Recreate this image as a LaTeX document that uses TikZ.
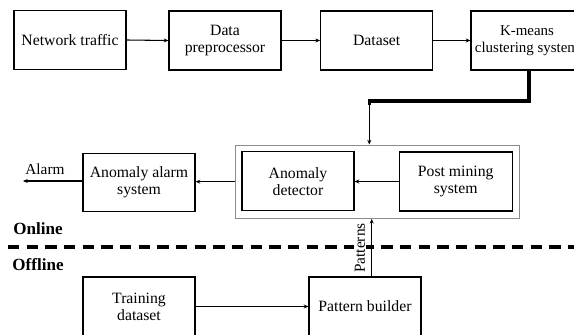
\documentclass[tikz,border=0pt]{standalone}
\usepackage{fontspec}
\setmainfont{Liberation Serif}
\usetikzlibrary{arrows.meta}

\tikzset{
    blk/.style={draw, line width=0.9pt, minimum width=84pt, minimum height=44.25pt, align=center, inner sep=0.75pt, font=\fontsize{11.8}{12.75}\selectfont},
    grpbox/.style={draw=black!45, line width=0.8pt, minimum width=212.7pt, minimum height=55pt, inner sep=0pt},
    link/.style={line width=0.8pt, -{Stealth[length=3.5pt,width=3pt]}},
    lbl/.style={inner sep=0.75pt, font=\fontsize{11.5}{12.75}\selectfont},
    sidelbl/.style={inner sep=0.75pt, font=\fontsize{12.8}{14}\selectfont\bfseries},
}

\begin{document}
\begin{tikzpicture}[x=0.75pt,y=0.75pt,yscale=-1,xscale=1]
    \useasboundingbox (0,0) rectangle (574,335);

    % Blocks: online chain
    \node[blk] (net) at (70,40) {Network traffic};
    \node[blk] (prep) at (225,40.5) {Data\\preprocessor};
    \node[blk] (dset) at (376.7,40.5) {Dataset};
    \node[blk, font=\fontsize{11.2}{12.75}\selectfont] (kmeans) at (527,40.5) {K-means\\clustering system};

    % Group box round detector and post mining
    \node[grpbox] (outer) at (377.5,181.7) {};
    \node[blk] (detector) at (298,181.3) {Anomaly\\detector};
    \node[blk, minimum width=84.75pt] (postmine) at (455.7,181.5) {Post mining\\system};
    \node[blk, minimum height=43.5pt] (alarmsys) at (139,182.5) {Anomaly alarm\\system};

    % Blocks: offline
    \node[blk] (train) at (139,306.5) {Training\\dataset};
    \node[blk] (pbuild) at (365,306.5) {Pattern builder};

    % Free ends
    \coordinate (bend) at (369.3,101);
    \coordinate (alarmend) at (23,181);
    \coordinate (patx) at (371.7,0);

    % Connectors
    \draw[link] (net.east) -- (prep.west);
    \draw[link] (prep.east) -- (dset.west);
    \draw[link] (dset.east) -- (kmeans.west);
    \draw[line width=2.3pt, line join=miter] ([xshift=1.5pt]kmeans.south) |- (bend) -- ++(0,4);
    \draw[link] (bend) -- (outer.north -| bend);
    \draw[link] (postmine.west) -- (postmine.west -| detector.east);
    \draw[link] (outer.west) -- (outer.west -| alarmsys.east);
    \draw[link] (alarmsys.west |- alarmend) -- (alarmend);
    \draw[link] (train.east) -- (pbuild.west);
    \draw[link] (pbuild.north -| patx) -- (outer.south -| patx);

    % Online / offline divider
    \draw[line width=2.3pt, dash pattern=on 8.5pt off 5.5pt] (8,247) -- (574,247);

    % Text Node
    \node[lbl] (alarmtxt) at (45,169) {Alarm};
    \node[sidelbl] (online) at (38,229) {Online};
    \node[sidelbl] (offline) at (38,265) {Offline};
    \node[lbl, rotate=90, fill=white, inner sep=1pt] (pattxt) at (360,248) {Patterns};

\end{tikzpicture}
\end{document}
